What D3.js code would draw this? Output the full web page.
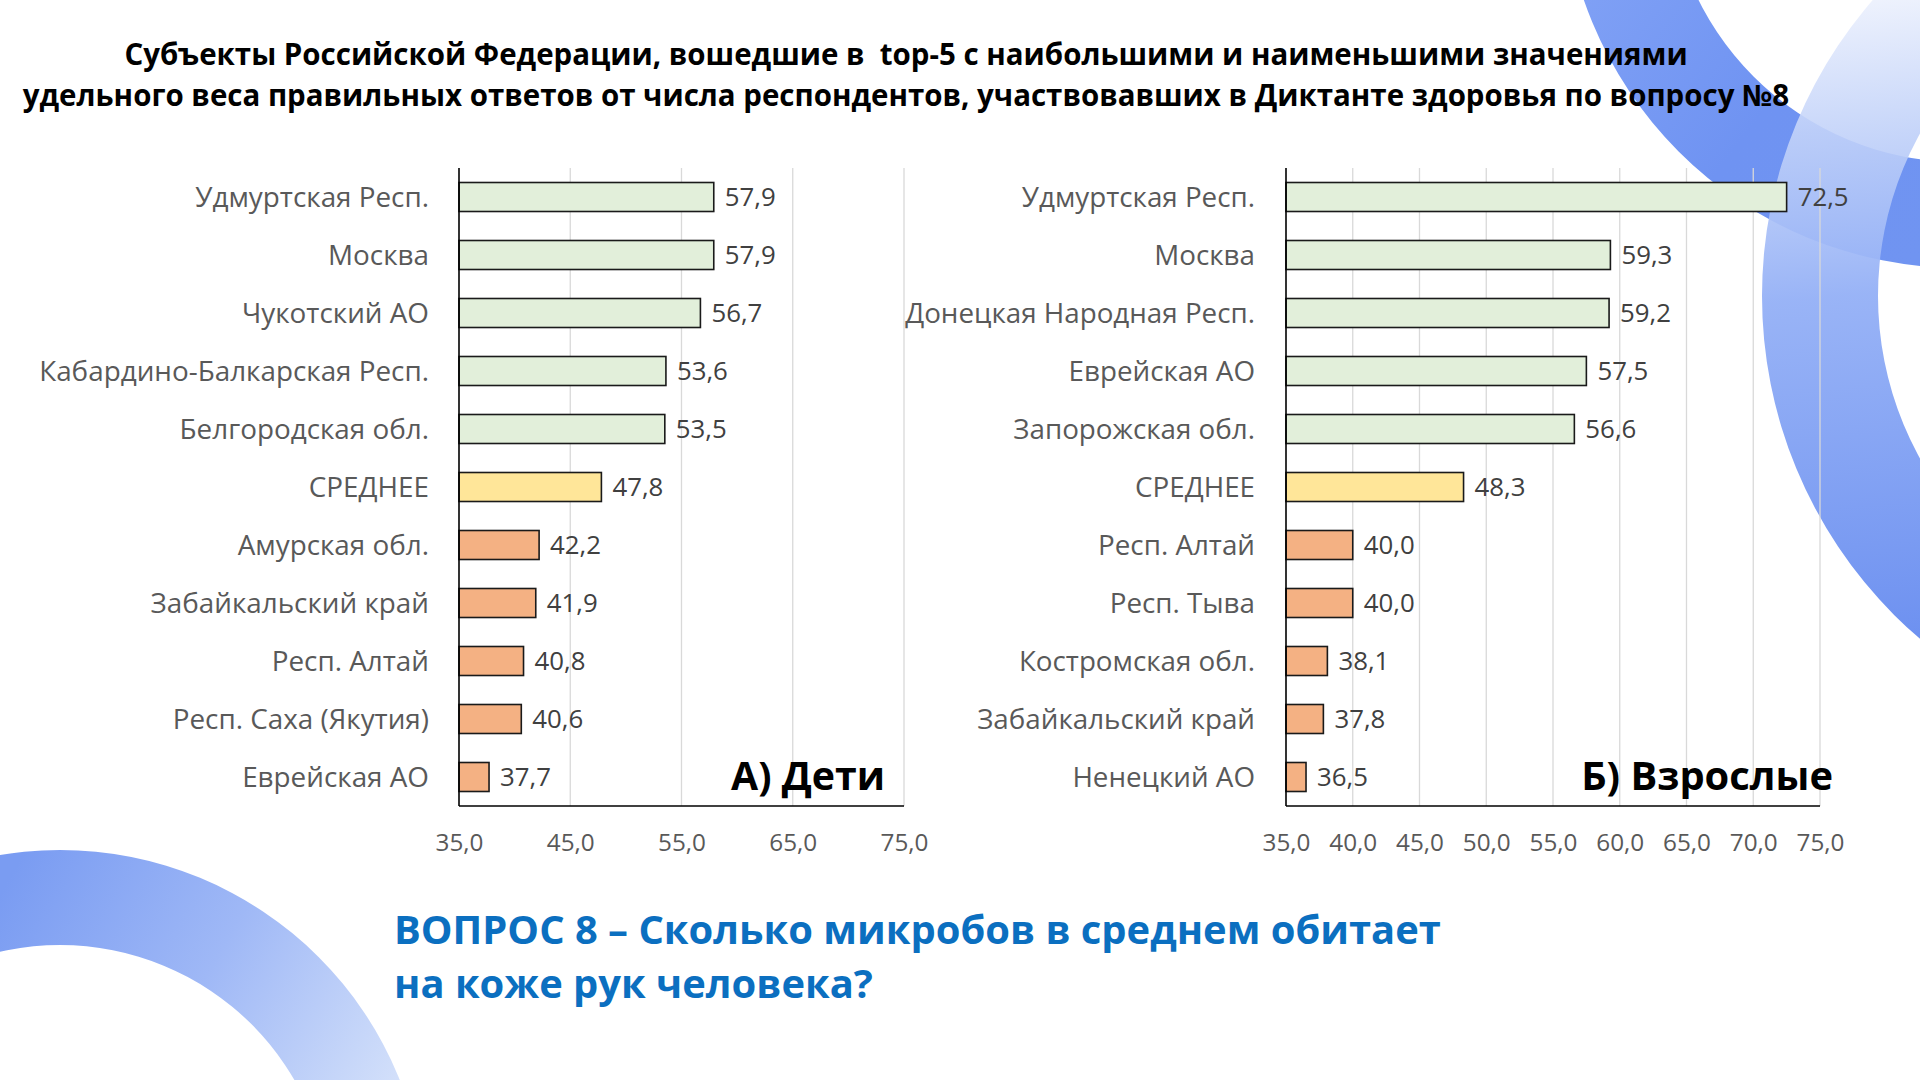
<!DOCTYPE html>
<html>
<head>
<meta charset="utf-8">
<script src="https://cdn.jsdelivr.net/npm/d3@7"></script>
<style>
  html, body { margin: 0; padding: 0; background: #ffffff; }
  svg { display: block; }
  text { font-family: "Open Sans", "Noto Sans", sans-serif; }
</style>
</head>
<body>
<svg id="chart" width="1920" height="1080"></svg>
<script>
// ---------------- DATA ----------------
const titleLines = [
  "Субъекты Российской Федерации, вошедшие в  top-5 с наибольшими и наименьшими значениями",
  "удельного веса правильных ответов от числа респондентов, участвовавших в Диктанте здоровья по вопросу №8"
];
const questionLines = [
  "ВОПРОС 8 – Сколько микробов в среднем обитает",
  "на коже рук человека?"
];

const childrenCategories = [
  "Удмуртская Респ.", "Москва", "Чукотский АО", "Кабардино-Балкарская Респ.", "Белгородская обл.",
  "СРЕДНЕЕ",
  "Амурская обл.", "Забайкальский край", "Респ. Алтай", "Респ. Саха (Якутия)", "Еврейская АО"
];
const childrenValues = [57.9, 57.9, 56.7, 53.6, 53.5, 47.8, 42.2, 41.9, 40.8, 40.6, 37.7];

const adultCategories = [
  "Удмуртская Респ.", "Москва", "Донецкая Народная Респ.", "Еврейская АО", "Запорожская обл.",
  "СРЕДНЕЕ",
  "Респ. Алтай", "Респ. Тыва", "Костромская обл.", "Забайкальский край", "Ненецкий АО"
];
const adultValues = [72.5, 59.3, 59.2, 57.5, 56.6, 48.3, 40.0, 40.0, 38.1, 37.8, 36.5];

// group of each row: top-5, average, bottom-5
const rowGroups = ["top", "top", "top", "top", "top", "avg", "low", "low", "low", "low", "low"];
const groupColors = { top: "#e2efda", avg: "#ffe699", low: "#f4b183" };

const childrenTicks = [35, 45, 55, 65, 75];
const adultTicks = [35, 40, 45, 50, 55, 60, 65, 70, 75];
const xDomain = [35, 75];

const panelLabels = ["А) Дети", "Б) Взрослые"];

// ---------------- HELPERS ----------------
const svg = d3.select("#chart");
const fmt = v => d3.format(".1f")(v).replace(".", ",");

function fitWidth(sel, target) {
  const w = sel.node().getComputedTextLength();
  const fs = parseFloat(sel.attr("font-size"));
  const nfs = fs * target / w;
  sel.attr("font-size", nfs);
  return nfs;
}

// ---------------- BACKGROUND RINGS ----------------
const defs = svg.append("defs");
const ringArc = d3.arc().startAngle(0).endAngle(2 * Math.PI);
const bg = svg.append("g").attr("class", "background");

function ring(id, cx, cy, r0, r1, p1, p2, stops) {
  const grad = defs.append("linearGradient").attr("id", id)
    .attr("gradientUnits", "userSpaceOnUse")
    .attr("x1", p1[0] - cx).attr("y1", p1[1] - cy)
    .attr("x2", p2[0] - cx).attr("y2", p2[1] - cy);
  stops.forEach(s => grad.append("stop").attr("offset", s[0])
    .attr("stop-color", s[1]).attr("stop-opacity", s[2] == null ? 1 : s[2]));
  bg.append("path")
    .attr("transform", `translate(${cx},${cy})`)
    .attr("d", ringArc({ innerRadius: r0, outerRadius: r1 }))
    .attr("fill", `url(#${id})`);
}

ring("ring1", 1960, -130, 292, 398, [1580, 0], [1920, 260],
  [[0, "#7fa0f5"], [0.5, "#6f93f2"], [1, "#7094f1"]]);

ring("ring2", 2213, 296, 335, 451, [1800, 0], [1860, 660],
  [[0, "#eef2fd", 0.92], [0.2, "#c3d3f9", 0.9], [0.45, "#94b0f6", 0.95], [1, "#6b8ff0"]]);

ring("ring3", 60, 1216, 271, 366, [20, 860], [400, 1080],
  [[0, "#7a9cf2"], [0.5, "#9fb8f6"], [1, "#d3e0fa"]]);

// ---------------- TITLE ----------------
const t2 = svg.append("text").attr("x", 906).attr("y", 106)
  .attr("text-anchor", "middle").attr("font-weight", 700)
  .attr("font-size", 28).attr("fill", "#000").text(titleLines[1]);
const titleFs = fitWidth(t2, 1767);
svg.append("text").attr("x", 906).attr("y", 65)
  .attr("text-anchor", "middle").attr("font-weight", 700)
  .attr("font-size", titleFs).attr("fill", "#000")
  .attr("xml:space", "preserve").style("white-space", "pre")
  .text(titleLines[0]);

// ---------------- PANELS ----------------
const plotTop = 168, plotBottom = 806;

function drawPanel(opts) {
  const { categories, values, ticks, x0, x1, labelRight, widestTarget, panelLabel, panelRight, panelWidth } = opts;
  const g = svg.append("g");
  const x = d3.scaleLinear().domain(xDomain).range([x0, x1]);
  const y = d3.scaleBand().domain(categories).range([plotTop, plotBottom]).paddingInner(0.5).paddingOuter(0.25);

  // gridlines
  g.append("g").selectAll("line").data(ticks.slice(1)).join("line")
    .attr("x1", d => x(d)).attr("x2", d => x(d))
    .attr("y1", plotTop).attr("y2", plotBottom)
    .attr("stroke", "#d9d9d9").attr("stroke-width", 1.3);

  // tick labels via axis
  const axis = d3.axisBottom(x).tickValues(ticks).tickFormat(fmt).tickSize(0).tickPadding(0);
  const ag = g.append("g").attr("transform", `translate(0,${plotBottom})`).call(axis);
  ag.select(".domain").remove();
  ag.selectAll("text")
    .attr("y", 45).attr("dy", 0)
    .attr("fill", "#595959")
    .attr("font-size", 24)
    .style("font-family", "'Open Sans', sans-serif");
  const tickFs = fitWidth(ag.select("text"), 48);
  ag.selectAll("text").attr("font-size", tickFs);

  // bars
  g.append("g").selectAll("rect").data(values).join("rect")
    .attr("x", x(xDomain[0]))
    .attr("y", (d, i) => y(categories[i]))
    .attr("width", d => x(d) - x(xDomain[0]))
    .attr("height", y.bandwidth())
    .attr("fill", (d, i) => groupColors[rowGroups[i]])
    .attr("stroke", "#1a1a1a").attr("stroke-width", 1.6);

  // axis lines
  g.append("line").attr("x1", x(xDomain[0])).attr("x2", x(xDomain[0]))
    .attr("y1", plotTop).attr("y2", plotBottom)
    .attr("stroke", "#000").attr("stroke-width", 1.6);
  g.append("line").attr("x1", x(xDomain[0])).attr("x2", x(xDomain[1]))
    .attr("y1", plotBottom).attr("y2", plotBottom)
    .attr("stroke", "#000").attr("stroke-width", 1.6);

  // value labels
  const vl = g.append("g").selectAll("text").data(values).join("text")
    .attr("x", d => x(d) + 11)
    .attr("y", (d, i) => y(categories[i]) + y.bandwidth() / 2)
    .attr("dy", "0.36em")
    .attr("fill", "#404040")
    .attr("font-size", 24)
    .text(d => fmt(d));
  const vfs = fitWidth(d3.select(vl.nodes()[0]), 51);
  vl.attr("font-size", vfs);

  // category labels
  const cl = g.append("g").selectAll("text").data(categories).join("text")
    .attr("x", labelRight)
    .attr("y", d => y(d) + y.bandwidth() / 2)
    .attr("dy", "0.36em")
    .attr("text-anchor", "end")
    .attr("fill", "#595959")
    .attr("font-size", 28)
    .text(d => d);
  let widest = cl.nodes().reduce((a, n) => n.getComputedTextLength() > a.getComputedTextLength() ? n : a);
  const cfs = fitWidth(d3.select(widest), widestTarget);
  cl.attr("font-size", cfs);

  // panel label
  const pl = g.append("text").attr("x", panelRight).attr("y", 790)
    .attr("text-anchor", "end").attr("font-weight", 700)
    .attr("font-size", 40).attr("fill", "#000").text(panelLabel);
  fitWidth(pl, panelWidth);
}

drawPanel({
  categories: childrenCategories, values: childrenValues, ticks: childrenTicks,
  x0: 459, x1: 904, labelRight: 429, widestTarget: 390,
  panelLabel: panelLabels[0], panelRight: 885, panelWidth: 154
});

drawPanel({
  categories: adultCategories, values: adultValues, ticks: adultTicks,
  x0: 1286, x1: 1820, labelRight: 1255, widestTarget: 350,
  panelLabel: panelLabels[1], panelRight: 1833, panelWidth: 252
});

// ---------------- QUESTION ----------------
const q1 = svg.append("text").attr("x", 394).attr("y", 944)
  .attr("font-weight", 700).attr("font-size", 40).attr("fill", "#0b6fc0")
  .text(questionLines[0]);
const qfs = fitWidth(q1, 1047);
svg.append("text").attr("x", 394).attr("y", 998)
  .attr("font-weight", 700).attr("font-size", qfs).attr("fill", "#0b6fc0")
  .text(questionLines[1]);
</script>
</body>
</html>
